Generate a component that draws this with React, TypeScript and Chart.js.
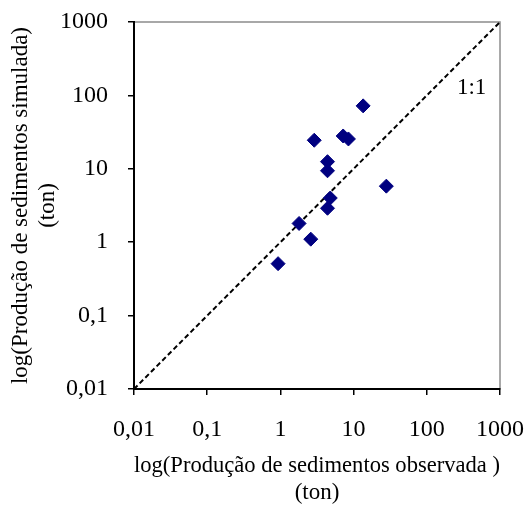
import React, { useEffect, useRef } from "react";
import { Chart, registerables } from "chart.js";

Chart.register(...registerables);

const observed = [13.5, 2.9, 7.2, 8.5, 4.4, 4.4, 28, 4.8, 4.4, 1.8, 2.6, 0.93];
const simulated = [72, 24.5, 28, 25.5, 12.5, 9.4, 5.8, 4.0, 2.9, 1.8, 1.1, 0.51];
const tickValues = [0.01, 0.1, 1, 10, 100, 1000];
const identityLine = [0.01, 1000];
const identityLabel = { text: "1:1", x: 410, y: 125 };
const xTitle = ["log(Produção de sedimentos observada )", "(ton)"];
const yTitle = ["log(Produção de sedimentos simulada)", "(ton)"];

const FONT = "'Liberation Serif', 'Times New Roman', serif";

const fmt = (v: number) => String(v).replace(".", ",");

export default function App() {
  const ref = useRef<HTMLCanvasElement | null>(null);
  useEffect(() => {
    document.body.style.margin = "0";
    const canvas = ref.current!;
    const framePlugin = {
      id: "frame",
      beforeDraw(chart: any) {
        const { ctx, chartArea: a } = chart;
        ctx.save();
        ctx.strokeStyle = "#8c8c8c";
        ctx.lineWidth = 1.5;
        ctx.strokeRect(a.left, a.top, a.right - a.left, a.bottom - a.top);
        ctx.restore();
      },
      afterDraw(chart: any) {
        const { ctx } = chart;
        const xs = chart.scales.x;
        const ys = chart.scales.y;
        ctx.save();
        ctx.fillStyle = "#000";
        ctx.font = `23px ${FONT}`;
        ctx.textAlign = "center";
        ctx.textBaseline = "middle";
        ctx.fillText(
          identityLabel.text,
          xs.getPixelForValue(identityLabel.x),
          ys.getPixelForValue(identityLabel.y)
        );
        ctx.restore();
      },
    };
    const chart = new Chart(canvas, {
      type: "scatter",
      data: {
        datasets: [
          {
            data: identityLine.map((v) => ({ x: v, y: v })),
            showLine: true,
            borderColor: "#000",
            borderWidth: 2,
            borderDash: [5, 3],
            pointRadius: 0,
            order: 2,
          } as any,
          {
            data: observed.map((x, i) => ({ x, y: simulated[i] })),
            pointStyle: "rectRot",
            pointRadius: 7,
            backgroundColor: "#000080",
            borderColor: "#000080",
            borderWidth: 1,
            order: 1,
          },
        ],
      },
      options: {
        animation: false,
        responsive: false,
        devicePixelRatio: 1,
        layout: { padding: { top: 22, right: 29, left: 0, bottom: 0 } },
        plugins: { legend: { display: false }, tooltip: { enabled: false } },
        scales: {
          x: {
            type: "logarithmic",
            min: 0.01,
            max: 1000,
            afterBuildTicks: (s: any) => {
              s.ticks = tickValues.map((value) => ({ value }));
            },
            afterFit: (s: any) => {
              s.height = 117;
              s.paddingLeft = 0;
              s.paddingRight = 0;
              s.paddingTop = 0;
              s.paddingBottom = 0;
            },
            ticks: {
              callback: (v: any) => fmt(Number(v)),
              font: { family: FONT, size: 24 },
              color: "#000",
              padding: 20,
              maxRotation: 0,
              autoSkip: false,
            },
            grid: {
              drawOnChartArea: false,
              drawTicks: true,
              tickLength: 6,
              color: "#000",
              lineWidth: 1.5,
            },
            border: { display: true, color: "#000", width: 2 },
            title: {
              display: true,
              text: xTitle,
              font: { family: FONT, size: 23, lineHeight: 1.15 },
              color: "#000",
              padding: { top: 0, bottom: 0 },
            },
          },
          y: {
            type: "logarithmic",
            min: 0.01,
            max: 1000,
            afterBuildTicks: (s: any) => {
              s.ticks = tickValues.map((value) => ({ value }));
            },
            afterFit: (s: any) => {
              s.width = 134;
              s.paddingLeft = 0;
              s.paddingRight = 0;
              s.paddingTop = 0;
              s.paddingBottom = 0;
            },
            ticks: {
              callback: (v: any) => fmt(Number(v)),
              font: { family: FONT, size: 24 },
              color: "#000",
              padding: 20,
              autoSkip: false,
            },
            grid: {
              drawOnChartArea: false,
              drawTicks: true,
              tickLength: 6,
              color: "#000",
              lineWidth: 1.5,
            },
            border: { display: true, color: "#000", width: 2 },
            title: {
              display: true,
              text: yTitle,
              font: { family: FONT, size: 23, lineHeight: 1.15 },
              color: "#000",
              padding: { top: 8, bottom: 0 },
            },
          },
        },
      },
      plugins: [framePlugin],
    } as any);
    return () => chart.destroy();
  }, []);
  return (
    <div style={{ width: 529, height: 506 }}>
      <canvas ref={ref} width={529} height={506} style={{ display: "block" }} />
    </div>
  );
}
